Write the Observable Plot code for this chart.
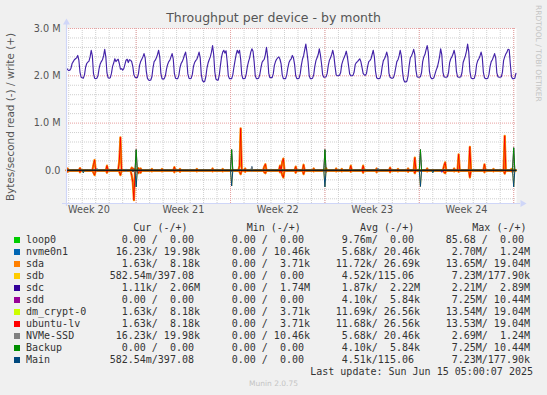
<!DOCTYPE html>
<html><head><meta charset="utf-8">
<script src="https://cdn.jsdelivr.net/npm/d3@7"></script>
<script src="https://cdn.jsdelivr.net/npm/@observablehq/plot@0.6"></script>
<style>
html,body{margin:0;padding:0;background:#f0f0f0;}
#wrap{position:relative;width:547px;height:395px;background:#f0f0f0;overflow:hidden;font-family:"DejaVu Sans",sans-serif;}
#title{position:absolute;left:0;width:547px;top:10px;text-align:center;font-size:12.5px;line-height:16px;color:#555;}
#plot{position:absolute;left:0;top:0;}
#rrd{position:absolute;left:533px;top:5px;writing-mode:vertical-rl;font-size:7.5px;color:#c4c4c4;line-height:10px;white-space:nowrap;}
#munin{position:absolute;left:0;width:547px;top:379px;text-align:center;font-size:7.5px;color:#c4c4c4;line-height:10px;}
.lg{position:absolute;font-family:"DejaVu Sans Mono",monospace;font-size:10px;line-height:12px;color:#333;white-space:pre;}
.sw{position:absolute;width:6px;height:6px;}
</style></head><body>
<div id="wrap">
  <div id="plot"></div>
  <div id="title">Throughput per device - by month</div>
  <div id="rrd">RRDTOOL / TOBI OETIKER</div>
  <div id="munin">Munin 2.0.75</div>
  <div id="legend"></div>
</div>
<script>
// ---------- data ----------
const seriesNames  = ["loop0","nvme0n1","sda","sdb","sdc","sdd","dm_crypt-0","ubuntu-lv","NVMe-SSD","Backup","Main"];
const seriesColors = ["#00CC00","#0066B3","#FF8000","#FFCC00","#330099","#990099","#CCFF00","#FF0000","#808080","#008F00","#00487D"];
const curCol = ["  0.00 /  0.00 "," 16.23k/ 19.98k","  1.63k/  8.18k","582.54m/397.08 ","  1.11k/  2.06M","  0.00 /  0.00 ","  1.63k/  8.18k","  1.63k/  8.18k"," 16.23k/ 19.98k","  0.00 /  0.00 ","582.54m/397.08 "];
const minCol = ["  0.00 /  0.00 ","  0.00 / 10.46k","  0.00 /  3.71k","  0.00 /  0.00 ","  0.00 /  1.74M","  0.00 /  0.00 ","  0.00 /  3.71k","  0.00 /  3.71k","  0.00 / 10.46k","  0.00 /  0.00 ","  0.00 /  0.00 "];
const avgCol = ["  9.76m/  0.00 ","  5.68k/ 20.46k"," 11.72k/ 26.69k","  4.52k/115.06 ","  1.87k/  2.22M","  4.10k/  5.84k"," 11.69k/ 26.56k"," 11.68k/ 26.56k","  5.68k/ 20.46k","  4.10k/  5.84k","  4.51k/115.06 "];
const maxCol = [" 85.68 /  0.00 ","  2.70M/  1.24M"," 13.65M/ 19.04M","  7.23M/177.90k","  2.21M/  2.89M","  7.25M/ 10.44M"," 13.54M/ 19.04M"," 13.53M/ 19.04M","  2.69M/  1.24M","  7.25M/ 10.44M","  7.23M/177.90k"];
const colHeaders = ["Cur (-/+)","Min (-/+)","Avg (-/+)","Max (-/+)"];
const lastUpdate = "Last update: Sun Jun 15 05:00:07 2025";

const yTitle = "Bytes/second read (-) / write (+)";
const yMajorM = [0, 1, 2, 3];
const yTickLabels = ["0.0", "1.0 M", "2.0 M", "3.0 M"];
const yMinorM = [-0.6,-0.4,-0.2,0.2,0.4,0.6,0.8,1.2,1.4,1.6,1.8,2.2,2.4,2.6,2.8];
const weekLabels = ["Week 20","Week 21","Week 22","Week 23","Week 24"];
const weekMid = ["2025-05-14T12:00","2025-05-21T12:00","2025-05-28T12:00","2025-06-04T12:00","2025-06-11T12:00"];

// sdc write, MB/s, one value every 2 h starting 2025-05-12 20:00 UTC
const sdcWriteM = [
  2.16,2.13,                                                       // May 12 (20h,22h)
  2.11,2.12,2.16,2.26,2.30,2.34,2.36,2.38,2.43,2.33,2.08,1.97,     // May 13
  1.96,1.95,2.02,2.18,2.26,2.29,2.31,2.40,2.54,2.42,2.05,1.95,     // May 14
  1.94,1.95,2.00,2.15,2.25,2.30,2.34,2.42,2.56,2.40,2.06,1.96,     // May 15
  1.95,1.96,2.05,2.20,2.27,2.36,2.30,2.33,2.35,2.26,2.14,2.15,     // May 16
  2.12,2.15,2.24,2.33,2.35,2.28,2.34,2.33,2.30,2.20,2.02,1.97,     // May 17
  1.96,1.96,2.04,2.22,2.30,2.35,2.40,2.47,2.38,2.10,1.95,1.91,     // May 18
  1.90,1.91,1.98,2.17,2.30,2.33,2.38,2.45,2.54,2.40,2.05,1.94,     // May 19
  1.93,1.94,2.00,2.14,2.24,2.30,2.33,2.40,2.47,2.36,2.05,1.95,     // May 20
  1.94,1.94,2.01,2.17,2.26,2.30,2.36,2.44,2.50,2.35,2.04,1.95,     // May 21
  1.94,1.95,2.03,2.20,2.28,2.32,2.35,2.42,2.50,2.38,2.02,1.90,     // May 22
  1.87,1.88,1.98,2.16,2.27,2.34,2.40,2.50,2.64,2.45,2.08,1.93,     // May 23
  1.91,1.91,2.02,2.22,2.40,2.50,2.54,2.48,2.53,2.30,2.00,1.94,     // May 24
  1.94,1.94,2.02,2.18,2.32,2.45,2.54,2.48,2.54,2.35,2.02,1.94,     // May 25
  1.94,1.95,2.04,2.20,2.30,2.38,2.50,2.57,2.52,2.30,2.00,1.94,     // May 26
  1.94,1.95,2.02,2.16,2.28,2.32,2.35,2.45,2.60,2.40,2.05,1.96,     // May 27
  1.96,1.96,2.04,2.22,2.30,2.35,2.38,2.40,2.35,2.25,2.02,1.94,     // May 28
  1.94,1.94,2.02,2.17,2.28,2.33,2.36,2.43,2.38,2.24,2.00,1.94,     // May 29
  1.94,1.95,2.04,2.22,2.35,2.42,2.55,2.67,2.50,2.30,2.00,1.94,     // May 30
  1.94,1.95,2.02,2.20,2.32,2.38,2.45,2.57,2.44,2.25,2.02,1.97,     // May 31
  1.97,1.98,2.05,2.22,2.33,2.38,2.45,2.54,2.42,2.20,2.02,2.00,     // Jun 1
  2.00,2.01,2.07,2.24,2.32,2.38,2.44,2.52,2.40,2.22,2.04,2.00,     // Jun 2
  2.00,2.01,2.08,2.24,2.28,2.30,2.33,2.36,2.30,2.18,2.05,2.02,     // Jun 3
  2.01,2.05,2.20,2.30,2.32,2.36,2.45,2.54,2.40,2.10,1.96,1.94,     // Jun 4
  1.94,1.95,2.03,2.20,2.32,2.36,2.42,2.50,2.40,2.05,1.97,1.95,     // Jun 5
  1.95,1.96,2.04,2.17,2.30,2.34,2.42,2.54,2.42,2.10,1.92,1.87,     // Jun 6
  1.87,1.89,2.00,2.22,2.38,2.42,2.48,2.56,2.45,2.12,1.98,1.97,     // Jun 7
  1.97,1.98,2.07,2.30,2.40,2.45,2.55,2.64,2.50,2.10,1.97,1.94,     // Jun 8
  1.94,1.96,2.04,2.12,2.18,2.28,2.40,2.57,2.45,2.08,1.98,1.97,     // Jun 9
  1.97,1.98,2.07,2.28,2.36,2.40,2.46,2.54,2.42,2.10,1.98,1.97,     // Jun 10
  1.97,1.98,2.07,2.28,2.35,2.42,2.52,2.67,2.50,2.10,1.96,1.94,     // Jun 11
  1.94,1.95,2.04,2.24,2.32,2.36,2.42,2.50,2.40,2.08,1.96,1.94,     // Jun 12
  1.94,1.95,2.03,2.20,2.30,2.34,2.40,2.47,2.38,2.06,1.98,1.97,     // Jun 13
  1.97,1.98,2.08,2.32,2.40,2.46,2.50,2.56,2.55,2.25,1.98,1.94,     // Jun 14
  1.94,1.95,2.05                                                   // Jun 15 (0h-4h)
];

// spikes [time, write MB/s, read MB/s]; elsewhere the series sit on zero
const sdaEvents = [
  ["2025-05-12T22:00",0.04,0.03],["2025-05-13T20:00",0.05,0.04],
  ["2025-05-14T20:00",0.12,0.05],["2025-05-14T22:00",0.22,0.10],
  ["2025-05-15T20:00",0.10,0.05],
  ["2025-05-16T18:00",0.20,0.03],["2025-05-16T20:00",0.70,0.10],
  ["2025-05-17T16:00",0.06,0.10],["2025-05-17T18:00",0.04,0.25],["2025-05-17T20:00",0.03,0.63],
  ["2025-05-18T04:00",0.05,0.06],["2025-05-18T08:00",0.04,0.05],
  ["2025-05-19T04:00",0.03,0.02],["2025-05-19T22:00",0.03,0.02],
  ["2025-05-20T20:00",0.07,0.04],["2025-05-21T06:00",0.03,0.03],
  ["2025-05-22T12:00",0.03,0.02],["2025-05-23T16:00",0.04,0.02],
  ["2025-05-24T10:00",0.03,0.02],
  ["2025-05-25T16:00",0.10,0.03],["2025-05-25T18:00",0.89,0.08],
  ["2025-05-26T02:00",0.04,0.03],
  ["2025-05-27T12:00",0.08,0.04],["2025-05-27T14:00",0.13,0.06],
  ["2025-05-28T16:00",0.10,0.04],["2025-05-28T20:00",0.18,0.10],["2025-05-28T22:00",0.25,0.15],
  ["2025-05-29T20:00",0.08,0.05],["2025-05-30T10:00",0.12,0.08],
  ["2025-05-31T04:00",0.04,0.02],["2025-06-01T02:00",0.05,0.03],
  ["2025-06-01T20:00",0.04,0.02],["2025-06-02T06:00",0.03,0.02],
  ["2025-06-02T22:00",0.10,0.03],["2025-06-03T20:00",0.10,0.05],
  ["2025-06-04T20:00",0.04,0.04],["2025-06-05T20:00",0.06,0.04],
  ["2025-06-06T10:00",0.03,0.02],["2025-06-07T04:00",0.04,0.03],
  ["2025-06-07T16:00",0.27,0.06],["2025-06-08T14:00",0.04,0.02],
  ["2025-06-09T20:00",0.10,0.04],["2025-06-09T22:00",0.17,0.06],
  ["2025-06-10T14:00",0.04,0.02],["2025-06-10T22:00",0.34,0.03],
  ["2025-06-11T18:00",0.50,0.15],["2025-06-12T20:00",0.13,0.04],
  ["2025-06-13T12:00",0.03,0.02],["2025-06-14T08:00",0.73,0.07],
  ["2025-06-14T20:00",0.03,0.02]
];
const backupEvents = [
  ["2025-05-18T00:00",0.44,0.01],["2025-05-25T02:00",0.44,0.01],["2025-06-01T00:00",0.44,0.01],
  ["2025-06-08T02:00",0.44,0.01],["2025-06-15T00:00",0.48,0.01]
];
const mainEvents = [
  ["2025-05-14T02:00",0.00,0.05],
  ["2025-05-18T00:00",0.00,0.35],["2025-05-25T02:00",0.00,0.33],["2025-06-01T00:00",0.00,0.35],
  ["2025-06-08T02:00",0.00,0.34],["2025-06-09T00:00",0.00,0.05],["2025-06-15T00:00",0.00,0.35]
];
const nvmeEvents = [
  ["2025-05-15T02:00",0.04,0.01],["2025-05-17T06:00",0.03,0.03],["2025-05-26T14:00",0.08,0.02],
  ["2025-06-04T22:00",0.05,0.01],["2025-06-12T02:00",0.03,0.01]
];
const sdcReadEvents = [["2025-06-09T16:00",0.00,0.04]];

// ---------- build ----------
const t0 = Date.UTC(2025,4,12,20);
const STEP = 2*3600e3;
const xStart = new Date(t0);
const xEnd = new Date(Date.UTC(2025,5,15,5));
const times = sdcWriteM.map((_, i) => new Date(t0 + i*STEP));

function fromEvents(events, k, sign) {
  const vals = times.map(() => 0);
  for (const e of events) {
    const i = Math.round((Date.parse(e[0] + ":00Z") - t0) / STEP);
    if (i >= 0 && i < vals.length) vals[i] = sign * e[k] * 1e6;
  }
  return vals.map((v, i) => ({t: times[i], v}));
}
const none = [];
const seriesEvents = [none, nvmeEvents, sdaEvents, mainEvents, sdcReadEvents, backupEvents, sdaEvents, sdaEvents, nvmeEvents, backupEvents, mainEvents];

const lineMarks = [];
seriesNames.forEach((name, s) => {
  const ev = seriesEvents[s];
  const read = fromEvents(ev, 2, -1);
  const write = name === "sdc" ? sdcWriteM.map((v, i) => ({t: times[i], v: v*1e6})) : fromEvents(ev, 1, 1);
  const w = name === "sda" ? 2.2 : 1;
  const col = name === "sdc" ? "#4322a8" : seriesColors[s];
  lineMarks.push(Plot.line(read, {x: "t", y: "v", stroke: col, strokeWidth: w}));
  lineMarks.push(Plot.line(write, {x: "t", y: "v", stroke: col, strokeWidth: name === "sdc" ? 1.15 : w}));
});

const dayTicks = d3.utcDay.range(xStart, xEnd);
const weekTicks = d3.utcSunday.range(xStart, xEnd);
const gridGray = "#cfcfcf", gridRed = "#e8a0a0", axisCol = "#cfd6f8", txt = "#555";

const chart = Plot.plot({
  width: 547, height: 222,
  marginLeft: 66, marginRight: 31, marginTop: 28, marginBottom: 19,
  style: {background: "transparent", fontFamily: "DejaVu Sans", overflow: "visible"},
  x: {type: "utc", domain: [xStart, xEnd], axis: null},
  y: {domain: [-0.7e6, 3.0e6], axis: null},
  marks: [
    Plot.frame({fill: "white", stroke: "none"}),
    Plot.ruleY(yMinorM, {y: d => d*1e6, stroke: gridGray, strokeDasharray: "1,1"}),
    Plot.ruleX(dayTicks, {x: d => d, stroke: gridGray, strokeDasharray: "1,1"}),
    Plot.ruleY(yMajorM, {y: d => d*1e6, stroke: gridRed, strokeDasharray: "1,1"}),
    Plot.ruleX(weekTicks, {x: d => d, stroke: gridRed, strokeDasharray: "1,1"}),
    Plot.ruleY([0], {stroke: "#555", strokeWidth: 3}),
    ...lineMarks,
    Plot.ruleY([0], {stroke: "#1a1a1a", strokeWidth: 1.4}),
    Plot.ruleX([xStart], {stroke: axisCol, strokeWidth: 1.2, insetTop: -5, insetBottom: -3}),
    Plot.ruleY([-0.7e6], {stroke: axisCol, strokeWidth: 1.2, insetLeft: -4, insetRight: -4}),
    Plot.dot([xStart], {x: d => d, y: 3.0e6, dy: -6, symbol: "triangle", r: 2.6, fill: axisCol, stroke: "none"}),
    Plot.dot([xEnd], {x: d => d, y: -0.7e6, dx: 6, symbol: "triangle", rotate: 90, r: 2.6, fill: axisCol, stroke: "none"}),
    Plot.text(yMajorM, {y: d => d*1e6, text: (d, i) => yTickLabels[i], frameAnchor: "left", textAnchor: "end", dx: -6, fontSize: 9.7, fill: txt}),
    Plot.text(weekMid, {x: d => new Date(d + ":00Z"), text: (d, i) => weekLabels[i], frameAnchor: "bottom", dy: 9, fontSize: 9.7, fill: txt}),
    Plot.text([yTitle], {frameAnchor: "left", textAnchor: "middle", rotate: -90, dx: -56, dy: 1, fontSize: 10.4, fill: txt})
  ]
});
document.getElementById("plot").appendChild(chart);

// ---------- legend ----------
const legend = document.getElementById("legend");
function addText(str, left, cy) {
  const d = document.createElement("div");
  d.className = "lg"; d.textContent = str;
  d.style.left = left + "px"; d.style.top = (cy - 6) + "px";
  legend.appendChild(d);
}
const headerX = [133.3, 246.7, 360, 472.3];
colHeaders.forEach((h, i) => addText(h, headerX[i], 227.7));
const fieldX = [109.7, 219.7, 329.7, 439.7];
seriesNames.forEach((name, r) => {
  const cy = 239.5 + 12*r;
  const sw = document.createElement("div");
  sw.className = "sw"; sw.style.background = seriesColors[r];
  sw.style.left = "14px"; sw.style.top = (cy - 3) + "px";
  legend.appendChild(sw);
  addText(name, 26, cy);
  [curCol, minCol, avgCol, maxCol].forEach((col, c) => addText(col[r], fieldX[c], cy));
});
const lu = document.createElement("div");
lu.className = "lg"; lu.textContent = lastUpdate;
lu.style.right = (547 - 533) + "px"; lu.style.top = (371.5 - 6) + "px";
legend.appendChild(lu);
</script>
</body></html>
